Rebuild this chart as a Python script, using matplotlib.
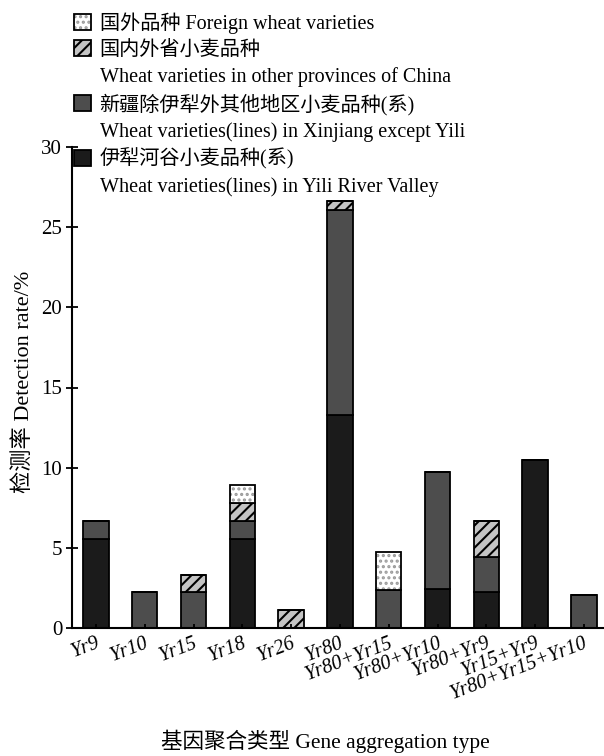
import matplotlib
matplotlib.use("Agg")
import matplotlib.pyplot as plt
import numpy as np
from matplotlib.patches import Patch
from matplotlib.legend_handler import HandlerTuple

plt.rcParams["font.family"] = ["Liberation Serif", "Noto Sans CJK SC"]
plt.rcParams["hatch.linewidth"] = 1.5

# detection rate (%) by gene aggregation type, stacked by variety source
categories = ["Yr9", "Yr10", "Yr15", "Yr18", "Yr26", "Yr80",
              "Yr80+Yr15", "Yr80+Yr10", "Yr80+Yr9", "Yr15+Yr9", "Yr80+Yr15+Yr10"]
yili = [5.56, 0, 0, 5.56, 0, 13.3, 0, 2.44, 2.22, 10.5, 0]
xinjiang = [1.11, 2.22, 2.22, 1.11, 0, 12.8, 2.38, 7.32, 2.22, 0, 2.06]
other_prov = [0, 0, 1.11, 1.11, 1.11, 0.56, 0, 0, 2.22, 0, 0]
foreign = [0, 0, 0, 1.11, 0, 0, 2.38, 0, 0, 0, 0]

legend_labels = [
    "国外品种 Foreign wheat varieties",
    "国内外省小麦品种",
    "Wheat varieties in other provinces of China",
    "新疆除伊犁外其他地区小麦品种(系)",
    "Wheat varieties(lines) in Xinjiang except Yili",
    "伊犁河谷小麦品种(系)",
    "Wheat varieties(lines) in Yili River Valley",
]

c_yili = "#1b1b1b"
c_xj = "#4d4d4d"
c_prov = "#c4c4c4"
c_dot = "#9a9a9a"

fig = plt.figure(figsize=(6.04, 7.56), dpi=100)
ax = fig.add_axes([72 / 604, 128 / 756, 532 / 604, 481 / 756])

x = np.arange(len(categories))
w = 0.52
lw = 1.3
b1 = np.array(yili)
b2 = b1 + np.array(xinjiang)
b3 = b2 + np.array(other_prov)

ax.bar(x, yili, w, color=c_yili, edgecolor="black", linewidth=lw)
ax.bar(x, xinjiang, w, bottom=b1, color=c_xj, edgecolor="black", linewidth=lw)
ax.bar(x, other_prov, w, bottom=b2, color=c_prov, edgecolor="black",
       linewidth=lw, hatch="///")
ax.bar(x, foreign, w, bottom=b3, color="white", edgecolor=c_dot,
       linewidth=0, hatch="...")
ax.bar(x, foreign, w, bottom=b3, fill=False, edgecolor="black", linewidth=lw)

ax.set_xlim(-0.49, 10.41)
ax.set_ylim(0, 30)
ax.set_yticks(np.arange(0, 31, 5))
ax.spines["top"].set_visible(False)
ax.spines["right"].set_visible(False)
ax.spines["left"].set_linewidth(1.5)
ax.spines["bottom"].set_linewidth(1.5)
ax.tick_params(axis="y", direction="inout", length=8, width=1.3, labelsize=15, pad=3)
ax.tick_params(axis="x", direction="in", length=3, width=1.3, pad=4)
ax.set_xticks(x)
ax.set_xticklabels(categories, rotation=21, ha="right", rotation_mode="anchor",
                   fontsize=14.5, style="italic")

ax.set_ylabel("检测率 Detection rate/%", fontsize=16)
ax.yaxis.set_label_coords(-0.072, 0.511)
ax.set_xlabel("基因聚合类型 Gene aggregation type", fontsize=15.5)
ax.xaxis.set_label_coords(0.476, -0.212)

blank = Patch(facecolor="none", edgecolor="none")
dots = (Patch(facecolor="white", edgecolor=c_dot, hatch="...", linewidth=0),
        Patch(fill=False, edgecolor="black", linewidth=lw))
handles = [
    dots,
    Patch(facecolor=c_prov, edgecolor="black", hatch="///", linewidth=lw),
    blank,
    Patch(facecolor=c_xj, edgecolor="black", linewidth=lw),
    blank,
    Patch(facecolor=c_yili, edgecolor="black", linewidth=lw),
    blank,
]
fig.legend(handles, legend_labels, loc="upper left",
           bbox_to_anchor=(74 / 604, 1 - 12 / 756), frameon=False,
           fontsize=14.5, handlelength=0.85, handleheight=0.85,
           handletextpad=0.42, labelspacing=0.33, borderpad=0,
           borderaxespad=0, handler_map={tuple: HandlerTuple(ndivide=1)})

fig.savefig("out.png", dpi=100)
